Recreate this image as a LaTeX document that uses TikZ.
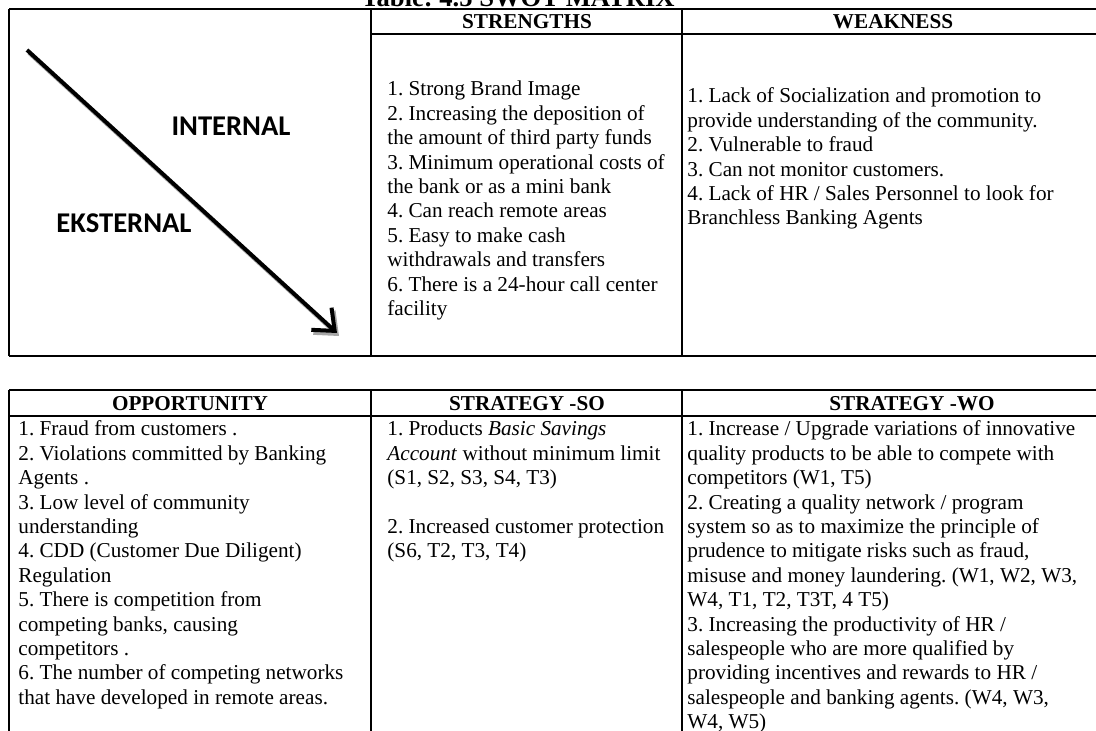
\documentclass[tikz,border=0pt]{standalone}
\usepackage{fontspec}
\setmainfont{Liberation Serif}
\newfontfamily\calfont{Carlito}
\usetikzlibrary{arrows.meta}
\newcommand\celltext[1]{\begin{tabular}[t]{@{}l@{}}#1\end{tabular}}
\frenchspacing
\begin{document}
\begin{tikzpicture}[x=0.5pt,y=-0.5pt,
  rule/.style={line width=1pt},
  hdr/.style={font=\fontsize{10.6}{12.2}\selectfont\bfseries, inner sep=0, anchor=base},
  body/.style={font=\fontsize{10.6}{12.2}\selectfont, anchor=base west, inner sep=0},
  ielabel/.style={font=\calfont\fontsize{14.3}{16}\selectfont\bfseries, inner sep=0},
  diag/.style={line width=2pt, -{Straight Barb[length=9pt,width=15pt]}},
  diagshadow/.style={diag, draw=black!35},
  titlestyle/.style={font=\fontsize{13.3}{15}\selectfont\bfseries, inner sep=0, anchor=base}
]
\useasboundingbox (0,0) rectangle (1096,731);
\begin{scope}
\clip (0,0) rectangle (1096,731);
% title (cut by the top edge)
\node[titlestyle] (title) at (518,6.5) {Table: 4.5 SWOT MATRIX};
% top table
\draw[rule] (9,9) -- (1110,9);
\draw[rule] (9,356) -- (1110,356);
\draw[rule] (9,9) -- (9,356);
\draw[rule] (371,9) -- (371,356);
\draw[rule] (682,9) -- (682,356);
\draw[rule] (371,34) -- (1110,34);
% bottom table
\draw[rule] (9,390) -- (1110,390);
\draw[rule] (9,416) -- (1110,416);
\draw[rule] (9,390) -- (9,745);
\draw[rule] (371,390) -- (371,745);
\draw[rule] (682,390) -- (682,745);
% diagonal arrow
\coordinate (arrstart) at (27,50);
\coordinate (arrtip) at (337,333);
\draw[diagshadow] ([shift={(2,3)}]arrstart) -- ([shift={(2,3)}]arrtip);
\draw[diag] (arrstart) -- (arrtip);
\node[ielabel] (internal) at (231,126) {INTERNAL};
\node[ielabel] (eksternal) at (124,223) {EKSTERNAL};
% headers
\node[hdr] (hS) at (527,29) {STRENGTHS};
\node[hdr] (hW) at (893,29) {WEAKNESS};
\node[hdr] (hO) at (190,411) {OPPORTUNITY};
\node[hdr] (hSO) at (527,411) {STRATEGY -SO};
\node[hdr] (hWO) at (912,411) {STRATEGY -WO};
% bodies
\node[body] (tS) at (387,96) {\celltext{1. Strong Brand Image\\
2. Increasing the deposition of\\
the amount of third party funds\\
3. Minimum operational costs of\\
the bank or as a mini bank\\
4. Can reach remote areas\\
5. Easy to make cash\\
withdrawals and transfers\\
6. There is a 24-hour call center\\
facility}};
\node[body] (tW) at (687,103) {\celltext{1. Lack of Socialization and promotion to\\
provide understanding of the community.\\
2. Vulnerable to fraud\\
3. Can not monitor customers.\\
4. Lack of HR / Sales Personnel to look for\\
Branchless Banking Agents}};
\node[body] (tO) at (18,436) {\celltext{1. Fraud from customers .\\
2. Violations committed by Banking\\
Agents .\\
3. Low level of community\\
understanding\\
4. CDD (Customer Due Diligent)\\
Regulation\\
5. There is competition from\\
competing banks, causing\\
competitors .\\
6. The number of competing networks\\
that have developed in remote areas.}};
\node[body] (tSO) at (387,436) {\celltext{1. Products \textit{Basic Savings}\\
\textit{Account} without minimum limit\\
(S1, S2, S3, S4, T3)\\
\\
2. Increased customer protection\\
(S6, T2, T3, T4)}};
\node[body] (tWO) at (687,436) {\celltext{1. Increase / Upgrade variations of innovative\\
quality products to be able to compete with\\
competitors (W1, T5)\\
2. Creating a quality network / program\\
system so as to maximize the principle of\\
prudence to mitigate risks such as fraud,\\
misuse and money laundering. (W1, W2, W3,\\
W4, T1, T2, T3T, 4 T5)\\
3. Increasing the productivity of HR /\\
salespeople who are more qualified by\\
providing incentives and rewards to HR /\\
salespeople and banking agents. (W4, W3,\\
W4, W5)}};
\end{scope}
\end{tikzpicture}
\end{document}
